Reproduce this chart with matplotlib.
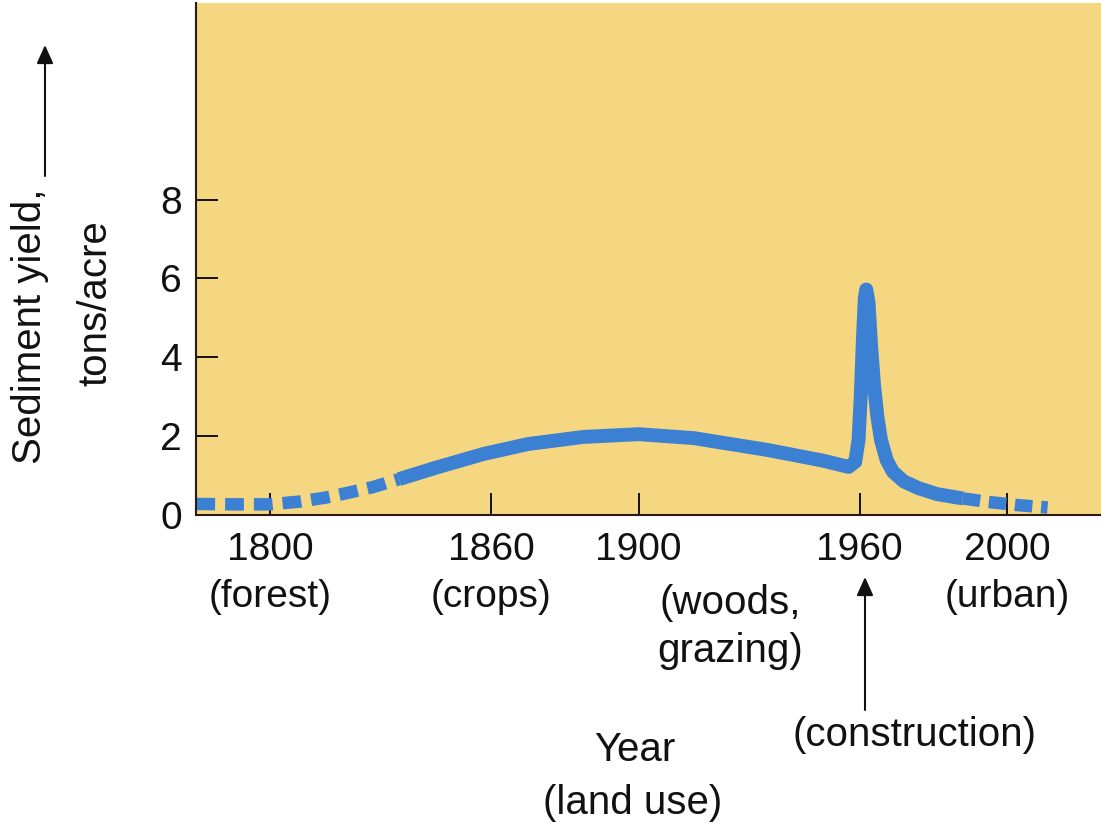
import matplotlib
matplotlib.use('Agg')
import matplotlib.pyplot as plt

plt.rcParams['font.family'] = ['Liberation Sans', 'DejaVu Sans']

# sediment yield (tons/acre)
yr_early = [1780, 1790, 1800, 1808, 1815, 1821, 1828, 1835]
val_early = [0.28, 0.27, 0.27, 0.34, 0.44, 0.56, 0.71, 0.91]

yr_main = [1835, 1845, 1858, 1870, 1885, 1900, 1915, 1935, 1950, 1957,
           1958.8, 1959.7, 1960.3, 1960.9, 1961.4, 1961.8, 1962.4, 1963.1,
           1963.9, 1964.8, 1965.8, 1967.3, 1969, 1972, 1976, 1981, 1988]
val_main = [0.91, 1.2, 1.55, 1.8, 1.98, 2.05, 1.95, 1.65, 1.38, 1.22,
            1.35, 1.9, 3.0, 4.5, 5.5, 5.72, 5.4, 4.3,
            3.3, 2.5, 1.9, 1.4, 1.1, 0.85, 0.68, 0.53, 0.42]

yr_late = [1988, 1995, 2003, 2011]
val_late = [0.42, 0.33, 0.25, 0.19]

tick_years = [1800, 1860, 1900, 1960, 2000]
tick_labels = ['1800\n(forest)', '1860\n(crops)', '1900', '1960', '2000\n(urban)']
ytick_vals = [0, 2, 4, 6, 8]

W, H = 1101, 827
fig = plt.figure(figsize=(W / 100, H / 100), dpi=100)
ax = fig.add_axes([196 / W, (H - 515) / H, (W - 196) / W, (515 - 2.5) / H])

blue = '#3b80d2'
ax.set_facecolor('#f6d781')
ax.plot(yr_main, val_main, color=blue, lw=10, solid_capstyle='butt', solid_joinstyle='round')
ax.plot(yr_early, val_early, color=blue, lw=9, dashes=(1.5, 0.8), dash_capstyle='butt')
ax.plot(yr_late, val_late, color=blue, lw=9, dashes=(1.4, 0.7), dash_capstyle='butt')

ax.set_xlim(1779.9, 2025.5)
ax.set_ylim(0, 13)
ax.set_xticks(tick_years)
ax.set_xticklabels(tick_labels, linespacing=1.4)
ax.set_yticks(ytick_vals)
ax.tick_params(direction='in', length=16, width=1.4, colors='#111111',
               labelsize=28)
ax.tick_params(axis='x', pad=12)
ax.tick_params(axis='y', pad=10)
for s in ['top', 'right']:
    ax.spines[s].set_visible(False)
for s in ['left', 'bottom']:
    ax.spines[s].set_linewidth(1.5)
    ax.spines[s].set_color('#2a1a10')

def px(x, y):
    return x / W, 1 - y / H

tc = '#111111'
fig.text(*px(730, 627), '(woods,\ngrazing)', fontsize=29, ha='center', va='center', color=tc, linespacing=1.35)
fig.text(*px(915, 735), '(construction)', fontsize=29, ha='center', va='center', color=tc)
fig.text(*px(635, 750), 'Year', fontsize=29, ha='center', va='center', color=tc)
fig.text(*px(633, 803), '(land use)', fontsize=29, ha='center', va='center', color=tc)
fig.text(*px(30, 326), 'Sediment yield,', fontsize=29, ha='center', va='center', rotation=90, color=tc)
fig.text(*px(95, 303), 'tons/acre', fontsize=29, ha='center', va='center', rotation=90, color=tc)

arr = dict(arrowstyle='-|>,head_length=0.4,head_width=0.18', mutation_scale=28,
           lw=1.5, color='#111111', shrinkA=0, shrinkB=0)
fig.add_artist(matplotlib.patches.FancyArrowPatch(px(45, 176), px(45, 45),
               transform=fig.transFigure, **arr))
fig.add_artist(matplotlib.patches.FancyArrowPatch(px(865, 710), px(865, 577),
               transform=fig.transFigure, **arr))

fig.savefig('out.png', dpi=100)
